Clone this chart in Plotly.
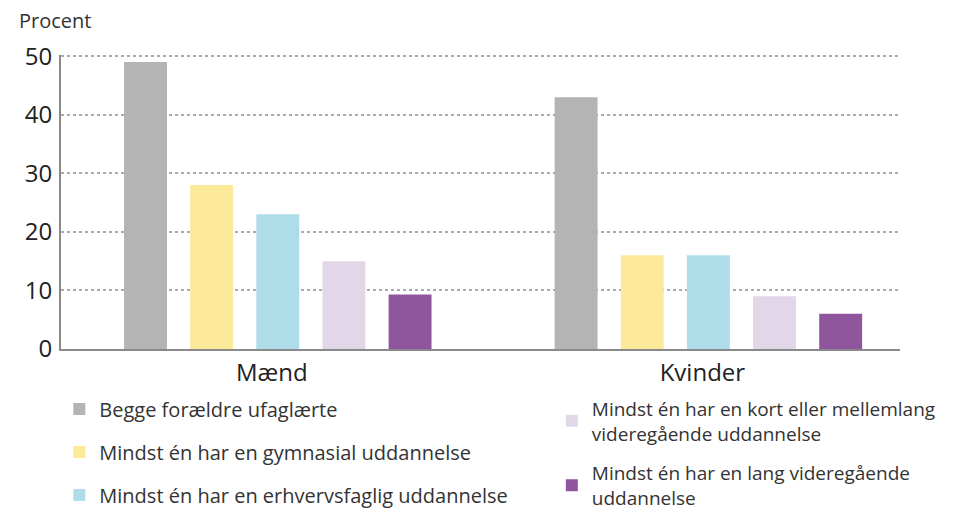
import plotly.graph_objects as go

categories = ["Mænd", "Kvinder"]
series_names = [
    "Begge forældre ufaglærte",
    "Mindst én har en gymnasial uddannelse",
    "Mindst én har en erhvervsfaglig uddannelse",
    "Mindst én har en kort eller mellemlang<br>videregående uddannelse",
    "Mindst én har en lang videregående<br>uddannelse",
]
values_gray = [49, 43]
values_yellow = [28, 16]
values_cyan = [23, 16]
values_lilac = [15, 9]
values_purple = [9.3, 6]
all_values = [values_gray, values_yellow, values_cyan, values_lilac, values_purple]
colors = ["#b4b4b4", "#fde99a", "#aedde9", "#e2d7e9", "#8f569d"]
legend_ids = ["legend", "legend", "legend", "legend2", "legend2"]
y_ticks = [0, 10, 20, 30, 40, 50]

fig = go.Figure()
for i, (name, vals, col, lg) in enumerate(zip(series_names, all_values, colors, legend_ids)):
    fig.add_trace(go.Bar(
        x=categories, y=vals, name=name, marker_color=col,
        marker_line_width=0, legend=lg, legendgroup=str(i),
    ))

font_fam = "Open Sans, Liberation Sans, sans-serif"
fig.update_layout(
    width=972, height=517,
    margin=dict(l=53, r=80, t=47, b=176, autoexpand=False),
    paper_bgcolor="white", plot_bgcolor="white",
    barmode="group", bargap=0.232, bargroupgap=0.351,
    font=dict(family=font_fam, color="#222"),
    xaxis=dict(
        range=[-0.5035, 1.445], showgrid=False,
        showline=True, linecolor="#8a8a8a", linewidth=2,
        ticks="", tickfont=dict(size=24, color="#222"),
        ticklabelshift=-6, ticklabelstandoff=1,
    ),
    yaxis=dict(
        range=[0, 50.2], tickvals=y_ticks, showgrid=True,
        gridcolor="#aaaaaa", gridwidth=2, griddash="dot",
        showline=True, linecolor="#8a8a8a", linewidth=2,
        zeroline=False, ticks="", ticklabelstandoff=2,
        tickfont=dict(size=24, color="#222"),
    ),
    legend=dict(
        xref="paper", yref="container",
        x=-0.002, y=0.262, xanchor="left", yanchor="top",
        font=dict(size=20, family=font_fam, color="#333"),
        tracegroupgap=14, bgcolor="rgba(0,0,0,0)",
    ),
    legend2=dict(
        xref="paper", yref="container",
        x=0.585, y=0.262, xanchor="left", yanchor="top",
        font=dict(size=19, family=font_fam, color="#333"),
        tracegroupgap=12, bgcolor="rgba(0,0,0,0)",
    ),
    annotations=[dict(
        text="Procent", xref="paper", yref="paper", x=-0.052, y=1.065,
        xanchor="left", yanchor="bottom", showarrow=False,
        font=dict(size=20, color="#333"),
    )],
)

fig.write_html("out.html")
